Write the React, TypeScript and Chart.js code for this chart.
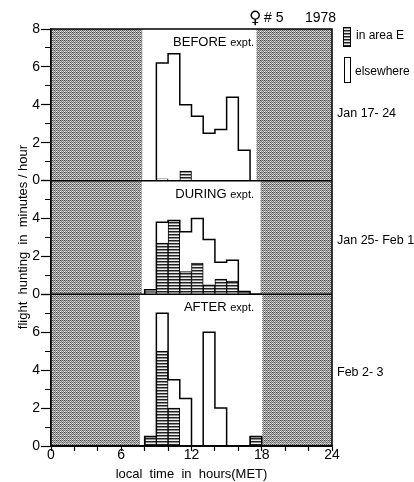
import React, { useEffect, useRef } from 'react';
import { Chart, registerables } from 'chart.js';

Chart.register(...registerables);

// ---- data ----
const binStarts = [8, 9, 10, 11, 12, 13, 14, 15, 16, 17];
const binWidth = 1;
const panelIds = ['yBefore', 'yDuring', 'yAfter'];
const panelNames = ['BEFORE', 'DURING', 'AFTER'];
const periodLabels = ['Jan 17- 24', 'Jan 25- Feb 1', 'Feb 2- 3'];
const panelMax = [8, 6, 8];

const beforeTotal = [0, 6.2, 6.7, 4.0, 3.4, 2.5, 2.7, 4.4, 1.6, 0];
const beforeAreaE = [0, 0.1, 0, 0.5, 0, 0, 0, 0, 0, 0];
const duringTotal = [0.25, 3.8, 3.9, 3.3, 4.0, 2.9, 1.7, 1.8, 0.15, 0];
const duringAreaE = [0.15, 2.7, 3.9, 1.2, 1.65, 0.5, 0.8, 0.7, 0.1, 0];
const afterTotal = [0.5, 7.0, 3.5, 2.5, 0, 6.0, 2.0, 0, 0, 0.5];
const afterAreaE = [0.5, 5.0, 2.0, 0, 0, 0, 0, 0, 0, 0.5];

const totals = [beforeTotal, duringTotal, afterTotal];
const areaEs = [beforeAreaE, duringAreaE, afterAreaE];

// night (shaded) periods, hours
const nightEnd = [7.8, 7.75, 7.6];
const nightStart = [17.55, 17.9, 18.05];

const xMin = 0;
const xMax = 24;
const xLabelEvery = 6;

const FONT = '"Liberation Sans", Arial, Helvetica, sans-serif';

function makeHatch(): CanvasPattern | string {
  const c = document.createElement('canvas');
  c.width = 4;
  c.height = 3;
  const g = c.getContext('2d');
  if (!g) return '#888';
  const rows = ['#222222', '#8c8c8c', '#eeeeee'];
  rows.forEach((col, r) => {
    g.fillStyle = col;
    g.fillRect(0, r, 4, 1);
  });
  return g.createPattern(c, 'repeat') || '#888';
}

function makeShade(): CanvasPattern | string {
  const c = document.createElement('canvas');
  c.width = 4;
  c.height = 4;
  const g = c.getContext('2d');
  if (!g) return '#aaa';
  const bayer = [
    [0, 8, 2, 10],
    [12, 4, 14, 6],
    [3, 11, 1, 9],
    [15, 7, 13, 5],
  ];
  bayer.forEach((row, y) =>
    row.forEach((v, x) => {
      const k = Math.round(72 + v * 11);
      g.fillStyle = `rgb(${k},${k},${k})`;
      g.fillRect(x, y, 1, 1);
    })
  );
  return g.createPattern(c, 'repeat') || '#aaa';
}

export default function App() {
  const ref = useRef<HTMLCanvasElement | null>(null);

  useEffect(() => {
    const canvas = ref.current;
    if (!canvas) return;
    const hatch = makeHatch();
    const shade = makeShade();

    const datasets: any[] = [];
    // outlines (totals) as stepped lines
    panelIds.forEach((id, p) => {
      const tot = totals[p];
      const pts: { x: number; y: number }[] = [{ x: binStarts[0], y: 0 }];
      tot.forEach((v, i) => pts.push({ x: binStarts[i], y: v }));
      pts.push({ x: binStarts[binStarts.length - 1] + binWidth, y: 0 });
      datasets.push({
        type: 'line',
        label: 'elsewhere',
        data: pts,
        xAxisID: 'x',
        yAxisID: id,
        stepped: 'before',
        borderColor: '#000',
        borderWidth: 1.5,
        pointRadius: 0,
        fill: false,
      });
    });
    // area E as hatched bars
    panelIds.forEach((id, p) => {
      datasets.push({
        type: 'bar',
        label: 'in area E',
        data: areaEs[p].map((v, i) => ({ x: binStarts[i] + binWidth / 2, y: v > 0 ? v : null })),
        xAxisID: 'x',
        yAxisID: id,
        backgroundColor: hatch,
        borderColor: '#000',
        borderWidth: 1,
        grouped: false,
        barPercentage: 1,
        categoryPercentage: 1,
        borderSkipped: 'bottom',
      });
    });

    // stacked left axes: Chart.js stacks the last defined on top, so define bottom panel first
    const yScales: any = {};
    [...panelIds.keys()].reverse().forEach((p) => {
      const id = panelIds[p];
      yScales[id] = {
        type: 'linear',
        position: 'left',
        stack: 'panels',
        stackWeight: panelMax[p],
        min: 0,
        max: panelMax[p],
        afterFit: (s: any) => {
          s.width = 51;
        },
        border: { display: true, color: '#000', width: 1.5 },
        grid: {
          drawOnChartArea: false,
          drawTicks: true,
          tickLength: 10,
          tickColor: '#000',
          tickWidth: 1.2,
          tickBorderDash: (c: any) => (c.tick && c.tick.value % 2 !== 0 ? [0, 4, 100, 0] : []),
        },
        ticks: {
          stepSize: 1,
          autoSkip: false,
          padding: 1,
          color: '#000',
          font: { family: FONT, size: 14 },
          callback: (v: any) => (v % 2 === 0 && (p === 0 || v < panelMax[p]) ? String(v) : ''),
        },
      };
    });

    const decor = {
      id: 'decor',
      beforeDatasetsDraw(chart: any) {
        const { ctx } = chart;
        const xs = chart.scales.x;
        ctx.save();
        panelIds.forEach((id, p) => {
          const ys = chart.scales[id];
          ctx.fillStyle = shade;
          const a0 = xs.getPixelForValue(xMin);
          const a1 = xs.getPixelForValue(nightEnd[p]);
          const b0 = xs.getPixelForValue(nightStart[p]);
          const b1 = xs.getPixelForValue(xMax);
          ctx.fillRect(a0, ys.top, a1 - a0, ys.bottom - ys.top);
          ctx.fillRect(b0, ys.top, b1 - b0, ys.bottom - ys.top);
        });
        ctx.restore();
      },
      afterDatasetsDraw(chart: any) {
        const { ctx, chartArea } = chart;
        ctx.save();
        ctx.strokeStyle = '#000';
        ctx.lineWidth = 1.5;
        ctx.strokeRect(chartArea.left, chartArea.top, chartArea.right - chartArea.left, chartArea.bottom - chartArea.top);
        panelIds.forEach((id) => {
          const ys = chart.scales[id];
          ctx.beginPath();
          ctx.moveTo(chartArea.left, ys.bottom);
          ctx.lineTo(chartArea.right, ys.bottom);
          ctx.stroke();
        });

        ctx.fillStyle = '#000';
        ctx.textBaseline = 'alphabetic';
        // panel labels
        panelIds.forEach((id, p) => {
          const ys = chart.scales[id];
          const rightX = 254;
          ctx.font = `11px ${FONT}`;
          const wE = ctx.measureText('expt.').width;
          ctx.font = `13px ${FONT}`;
          const name = panelNames[p] + ' ';
          const wN = ctx.measureText(name).width;
          ctx.textAlign = 'left';
          ctx.fillText(name, rightX - wE - wN, ys.top + 17);
          ctx.font = `11px ${FONT}`;
          ctx.fillText('expt.', rightX - wE, ys.top + 17);
          // period labels
          ctx.font = `12.5px ${FONT}`;
          const mid = (ys.top + ys.bottom) / 2;
          const off = [12, 6.5, 6][p];
          ctx.fillText(periodLabels[p], 337, mid + off);
        });

        // title
        ctx.textAlign = 'left';
        ctx.font = `17px "DejaVu Sans", ${FONT}`;
        ctx.fillText('\u2640', 249, 23);
        ctx.font = `14px ${FONT}`;
        ctx.fillText('# 5', 264, 22);
        ctx.fillText('1978', 305, 22);

        // legend
        ctx.lineWidth = 1;
        ctx.fillStyle = hatch as any;
        ctx.fillRect(343.5, 27.5, 7, 19);
        ctx.strokeRect(343.5, 27.5, 7, 19);
        ctx.fillStyle = '#fff';
        ctx.fillRect(344.5, 57.5, 6, 25);
        ctx.strokeRect(344.5, 57.5, 6, 25);
        ctx.fillStyle = '#000';
        ctx.font = `12px ${FONT}`;
        ctx.fillText('in area E', 356, 38.5);
        ctx.fillText('elsewhere', 355, 75);

        // y title
        ctx.save();
        ctx.translate(27, 237);
        ctx.rotate(-Math.PI / 2);
        ctx.textAlign = 'center';
        ctx.font = `13px ${FONT}`;
        ctx.fillText('flight  hunting  in  minutes / hour', 0, 0);
        ctx.restore();

        ctx.restore();
      },
    };

    const chart = new Chart(canvas, {
      type: 'bar',
      data: { datasets },
      options: {
        animation: false,
        responsive: false,
        devicePixelRatio: 1,
        layout: { padding: { top: 29, right: 82, left: 0, bottom: 0 } },
        plugins: { legend: { display: false }, tooltip: { enabled: false } },
        scales: {
          x: {
            type: 'linear',
            position: 'bottom',
            min: xMin,
            max: xMax,
            offset: false,
            afterFit: (s: any) => {
              s.height = 36;
            },
            border: { display: true, color: '#000', width: 1.5 },
            grid: { offset: false, drawOnChartArea: false, tickLength: 5, tickColor: '#000', tickWidth: 1.2 },
            ticks: {
              stepSize: 2,
              autoSkip: false,
              maxRotation: 0,
              padding: -4,
              color: '#000',
              font: { family: FONT, size: 14 },
              callback: (v: any) => (v % xLabelEvery === 0 ? String(v) : ''),
            },
            title: {
              display: true,
              text: 'local  time  in  hours(MET)',
              color: '#000',
              font: { family: FONT, size: 13 },
              padding: { top: 0, bottom: 0 },
            },
          },
          ...yScales,
        },
      } as any,
      plugins: [decor],
    });
    return () => chart.destroy();
  }, []);

  return (
    <div style={{ position: 'absolute', left: 0, top: 0, width: 414, height: 482, background: '#fff' }}>
      <canvas ref={ref} width={414} height={482} style={{ display: 'block' }} />
    </div>
  );
}
